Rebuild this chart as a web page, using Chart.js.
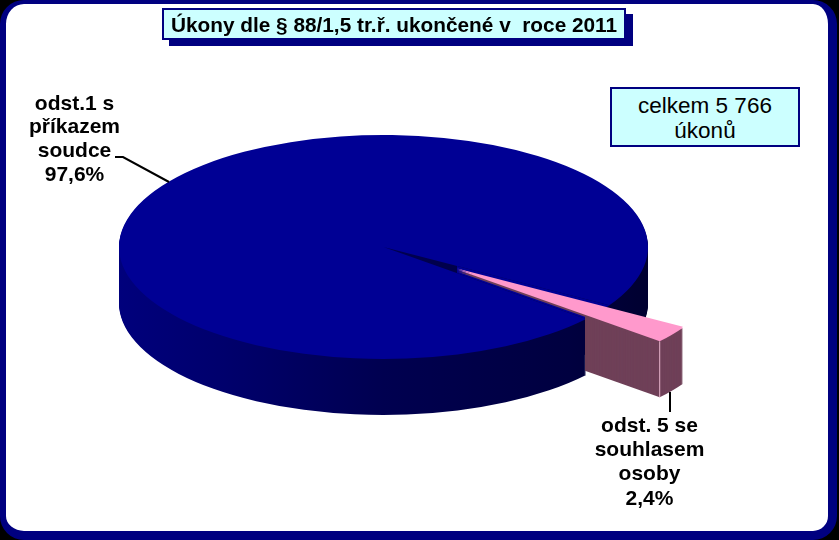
<!DOCTYPE html>
<html>
<head>
<meta charset="utf-8">
<title>Úkony dle § 88/1,5 tr.ř.</title>
<script src="https://cdn.jsdelivr.net/npm/chart.js@4"></script>
<style>
  html, body { margin: 0; padding: 0; background: #000; }
  #page { position: relative; width: 839px; height: 540px; overflow: hidden; background: #000; font-family: "Liberation Sans", Arial, sans-serif; color: #000; }
  #frame { position: absolute; left: 0; top: 0; width: 822px; height: 527px; background: #fff; border: solid #000080; border-width: 4px 9px 9px 6px; border-radius: 24px; }
  #chartBox { position: absolute; left: 0; top: 0; width: 839px; height: 540px; }
  #title { position: absolute; left: 162px; top: 8px; width: 460px; height: 28px; line-height: 30px; border: 2px solid #000080; background: #ccffff; box-shadow: 7px 6px 0 #000080; text-align: center; font-weight: bold; font-size: 20.8px; white-space: pre; }
  #note { position: absolute; left: 610px; top: 87px; width: 186px; height: 52px; padding-top: 4px; border: 2px solid #000080; background: #ccffff; text-align: center; font-size: 22.5px; line-height: 25px; }
</style>
</head>
<body>
<div id="page">
  <div id="frame"></div>
  <div id="chartBox"><canvas id="pieChart" width="839" height="540"></canvas></div>
  <div id="title"></div>
  <div id="note"></div>
</div>
<script>
const titleText = 'Úkony dle § 88/1,5 tr.ř. ukončené v  roce 2011';
const noteLines = ['celkem 5 766', 'úkonů'];
const categories = ['odst.1 s příkazem soudce', 'odst. 5 se souhlasem osoby'];
const shareValues = [97.6, 2.4];
const labelLines = [
  ['odst.1 s', 'příkazem', 'soudce', '97,6%'],
  ['odst. 5 se', 'souhlasem', 'osoby', '2,4%'],
];
const topColors = ['#000094', '#ff99cc'];

document.getElementById('title').textContent = titleText;
document.getElementById('note').innerHTML = noteLines.join('<br>');

// fake 3D: flatten the library's arcs and stack them downwards
const pie3d = { cx: 383.5, cy: 247, rx: 264.5, ry: 112, depth: 56, explode: [0, 90.6] };

function drawArc(ctx, arc, i, dy, color) {
  const R = arc.outerRadius;
  const mid = (arc.startAngle + arc.endAngle) / 2;
  const ex = Math.cos(mid) * pie3d.explode[i];
  const ey = Math.sin(mid) * pie3d.explode[i] * (pie3d.ry / pie3d.rx);
  const copy = Object.create(arc);
  copy.options = { backgroundColor: color, borderColor: color, borderWidth: 0, borderAlign: 'center', borderRadius: 0, offset: 0, spacing: 0, circular: true };
  ctx.save();
  ctx.translate(pie3d.cx + ex, pie3d.cy + ey + dy);
  ctx.scale(pie3d.rx / R, pie3d.ry / R);
  ctx.translate(-arc.x, -arc.y);
  copy.draw(ctx);
  ctx.restore();
}

const pie3dPlugin = {
  id: 'pie3d',
  beforeDatasetsDraw(chart) {
    const ctx = chart.ctx;
    const [big, small] = chart.getDatasetMeta(0).data;
    const wall = ctx.createLinearGradient(big.x - big.outerRadius, 0, big.x + big.outerRadius, 0);
    wall.addColorStop(0, '#00007c');
    wall.addColorStop(0.2, '#00006c');
    wall.addColorStop(0.5, '#000050');
    wall.addColorStop(0.85, '#000040');
    wall.addColorStop(1, '#000030');

    for (let k = pie3d.depth; k >= 1; k--) drawArc(ctx, big, 0, k, wall);
    drawArc(ctx, big, 0, 0, topColors[0]);

    const mid = (small.startAngle + small.endAngle) / 2;
    const ex = Math.cos(mid) * pie3d.explode[1];
    const ey = Math.sin(mid) * pie3d.explode[1] * (pie3d.ry / pie3d.rx);

    // close the gap beside the pulled out slice, only the part up to its tip stays dark
    ctx.save();
    ctx.beginPath();
    ctx.rect(pie3d.cx + ex, 0, chart.width, chart.height);
    ctx.clip();
    drawArc(ctx, small, 0, 0, topColors[0]);
    ctx.restore();

    // the near wall of the big slice hides the small slice's wall up to here
    const edgeX = pie3d.cx + pie3d.rx * Math.cos(big.startAngle) - 1;
    ctx.save();
    ctx.beginPath();
    ctx.rect(edgeX, 0, chart.width - edgeX, chart.height);
    ctx.clip();
    for (let k = pie3d.depth; k >= 3; k--) drawArc(ctx, small, 1, k, '#6f4058');
    ctx.restore();
    // thin strip of the same wall stays visible along the whole lower edge
    drawArc(ctx, small, 1, 2, '#6f4058');
    drawArc(ctx, small, 1, 1, '#6f4058');
    drawArc(ctx, small, 1, -1, topColors[1]);
    drawArc(ctx, small, 1, 0, topColors[1]);

    // light seam where the side wall meets the rounded end
    const sx = pie3d.cx + ex + pie3d.rx * Math.cos(small.endAngle);
    const sy = pie3d.cy + ey + pie3d.ry * Math.sin(small.endAngle);
    ctx.strokeStyle = '#e8b4cc';
    ctx.lineWidth = 1;
    ctx.beginPath();
    ctx.moveTo(sx, sy);
    ctx.lineTo(sx, sy + pie3d.depth);
    ctx.stroke();
    return false;
  },
  afterDraw(chart) {
    const ctx = chart.ctx;
    ctx.save();
    ctx.strokeStyle = '#000';
    ctx.lineWidth = 2;
    ctx.beginPath();
    ctx.moveTo(115, 157);
    ctx.lineTo(123, 157);
    ctx.lineTo(169, 182);
    ctx.moveTo(670, 392);
    ctx.lineTo(670, 412);
    ctx.stroke();
    ctx.fillStyle = '#000';
    ctx.font = 'bold 21px "Liberation Sans", Arial, sans-serif';
    ctx.textAlign = 'center';
    ctx.textBaseline = 'middle';
    labelLines[0].forEach((t, i) => ctx.fillText(t, 74.5, 104 + i * 23.7));
    labelLines[1].forEach((t, i) => ctx.fillText(t, 649.5, 426 + i * 24.3));
    ctx.restore();
  },
};

new Chart(document.getElementById('pieChart'), {
  type: 'pie',
  data: {
    labels: categories,
    datasets: [{ data: shareValues, backgroundColor: topColors, borderWidth: 0 }],
  },
  options: {
    responsive: false,
    animation: false,
    rotation: 130,
    plugins: { legend: { display: false }, tooltip: { enabled: false } },
  },
  plugins: [pie3dPlugin],
});
</script>
</body>
</html>
